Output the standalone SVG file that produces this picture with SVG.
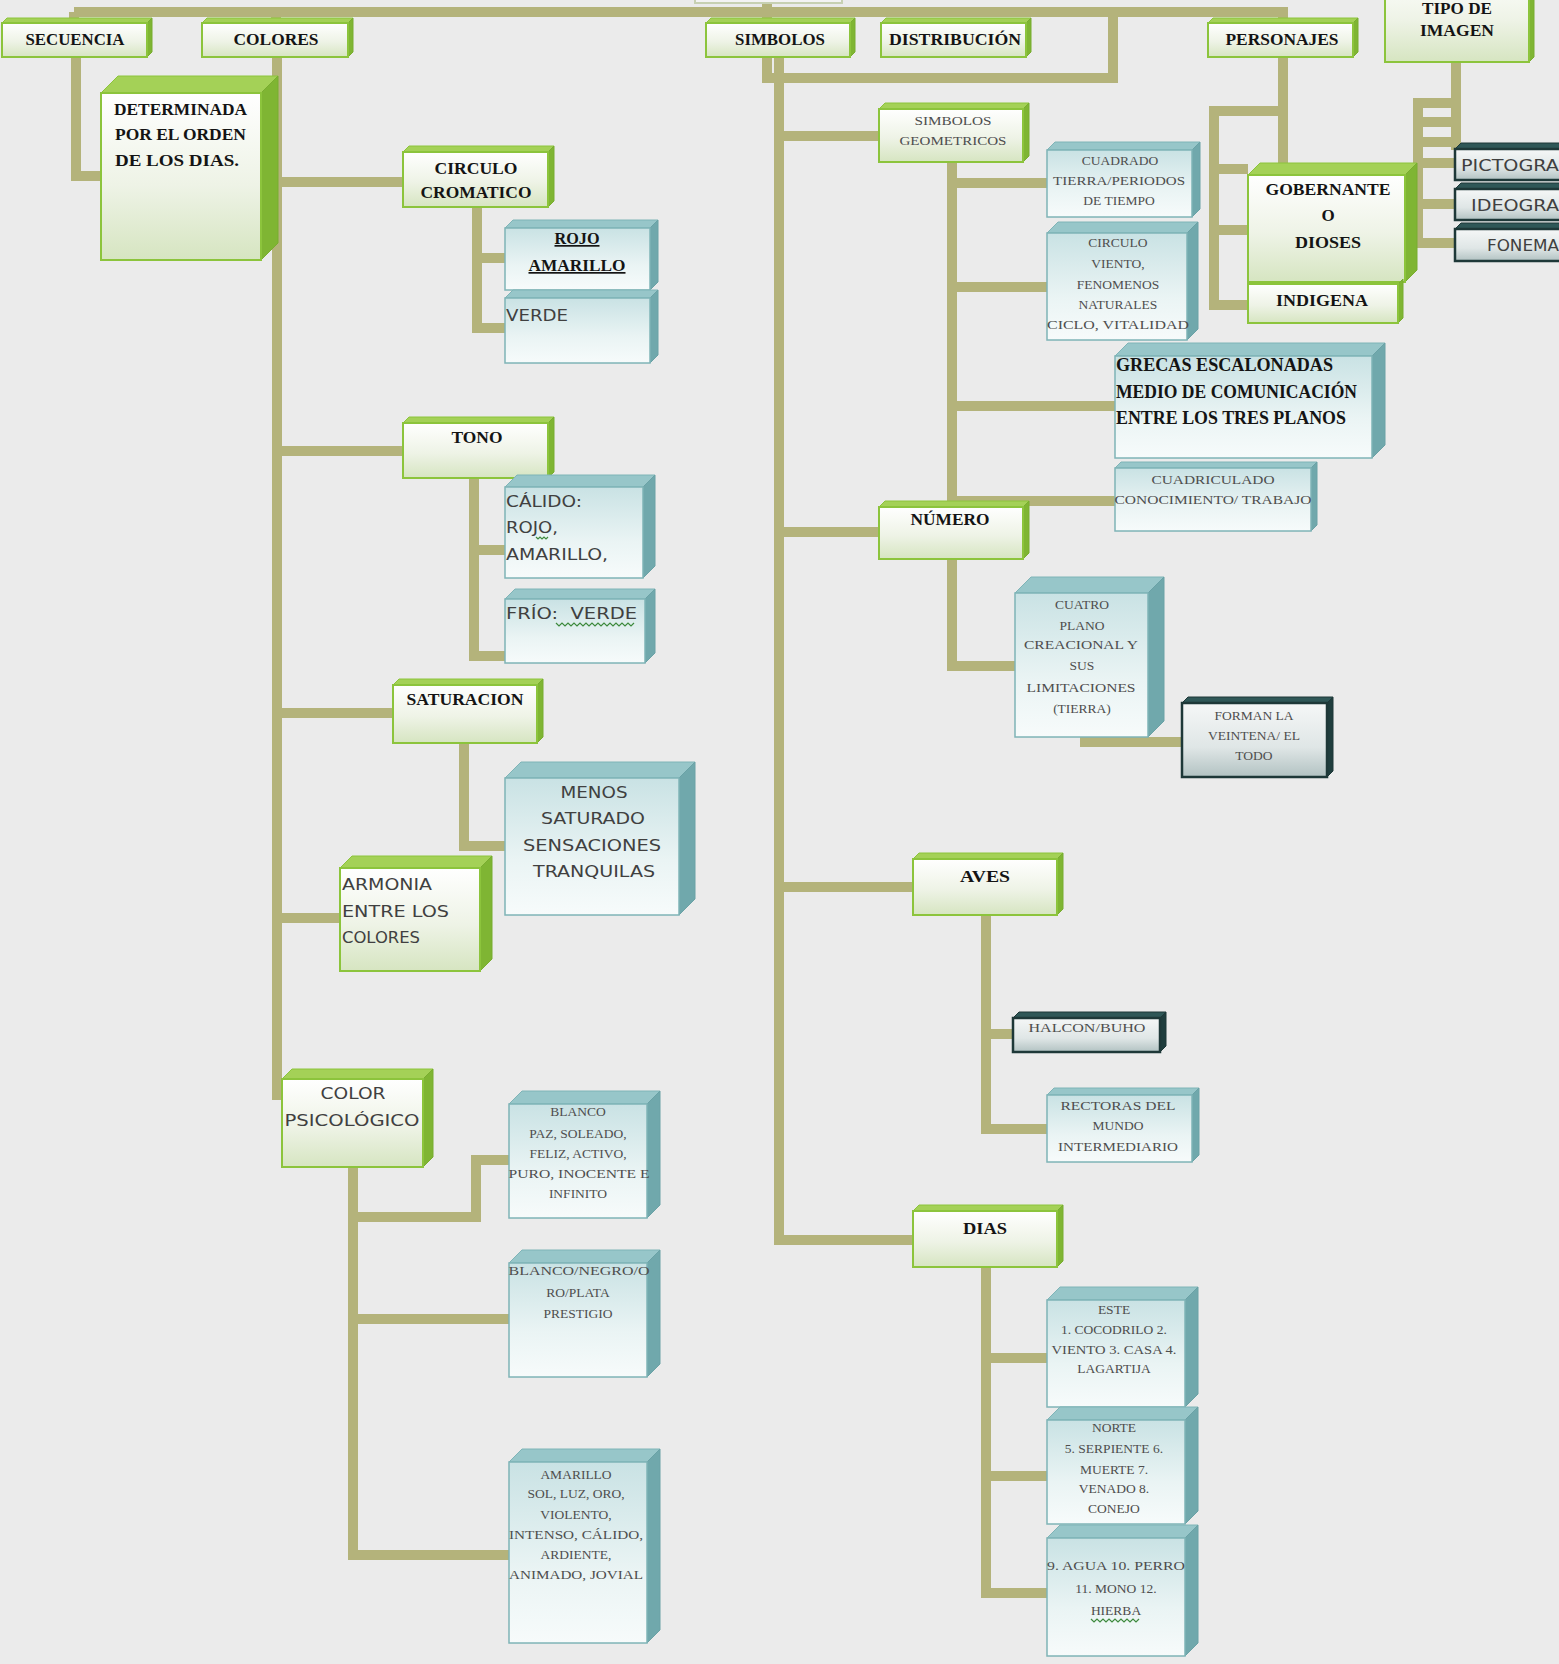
<svg xmlns="http://www.w3.org/2000/svg" width="1559" height="1664" viewBox="0 0 1559 1664">
<defs>
<linearGradient id="gF" x1="0" y1="0" x2="0" y2="1"><stop offset="0" stop-color="#ffffff"/><stop offset="0.55" stop-color="#eef3e6"/><stop offset="1" stop-color="#d6e5c1"/></linearGradient>
<linearGradient id="tF" x1="0" y1="0" x2="0" y2="1"><stop offset="0" stop-color="#c9e2e4"/><stop offset="0.6" stop-color="#eaf4f4"/><stop offset="1" stop-color="#f7fbfb"/></linearGradient>
<linearGradient id="dF" x1="0" y1="0" x2="0" y2="1"><stop offset="0" stop-color="#f5f7f7"/><stop offset="0.6" stop-color="#dfe6e6"/><stop offset="1" stop-color="#b2c2c2"/></linearGradient>
<style>
.gf{fill:url(#gF);stroke:#8cc43c;stroke-width:2}
.gt{fill:#a4d157;stroke:#8cc43c;stroke-width:1}
.gr{fill:#7fb533;stroke:#79ad30;stroke-width:1}
.tf{fill:url(#tF);stroke:#7fb4b7;stroke-width:1.5}
.tt{fill:#97c6c9;stroke:#7fb4b7;stroke-width:1}
.tr{fill:#70a8ac;stroke:#6aa2a6;stroke-width:1}
.df{fill:url(#dF);stroke:#1e3838;stroke-width:2.5}
.dt{fill:#2f5757;stroke:#1e3838;stroke-width:1}
.dr{fill:#1f3d3d;stroke:#1e3838;stroke-width:1}
.cn{fill:none;stroke:#b4b37b;stroke-width:10;stroke-linejoin:miter}
.lb{font-family:"Liberation Serif",serif;font-weight:bold;font-size:17px;fill:#141414}
.gb{font-family:"Liberation Serif",serif;font-weight:bold;font-size:18px;fill:#141414}
.sm{font-family:"Liberation Serif",serif;font-size:13.5px;fill:#4e4e4e}
.sn{font-family:"DejaVu Sans",sans-serif;font-size:16px;fill:#404040}
.mid{text-anchor:middle}
.wv{fill:none;stroke:#3d8a3d;stroke-width:1.2}
</style>
</defs>
<rect x="0" y="0" width="1559" height="1664" fill="#ebebeb"/>

<g id="connectors">
<path class="cn" d="M74,12 H1288"/>
<path class="cn" d="M74,12 V23"/>
<path class="cn" d="M276,12 V23"/>
<path class="cn" d="M767,0 V23"/>
<path class="cn" d="M1113,12 V78 H767 V57"/>
<path class="cn" d="M1283,12 V23"/>
<path class="cn" d="M76,57 V176 H101"/>
<path class="cn" d="M277,57 V1100"/>
<path class="cn" d="M277,182 H403"/>
<path class="cn" d="M277,451 H403"/>
<path class="cn" d="M277,713 H393"/>
<path class="cn" d="M277,918 H340"/>
<path class="cn" d="M477,207 V328 H505"/>
<path class="cn" d="M477,258 H505"/>
<path class="cn" d="M474,478 V656 H505"/>
<path class="cn" d="M474,550 H505"/>
<path class="cn" d="M464,743 V846 H505"/>
<path class="cn" d="M353,1167 V1555 H509"/>
<path class="cn" d="M353,1319 H509"/>
<path class="cn" d="M353,1217 H476 V1160 H509"/>
<path class="cn" d="M779,57 V1240 H913"/>
<path class="cn" d="M779,136 H879"/>
<path class="cn" d="M779,532 H879"/>
<path class="cn" d="M779,887 H913"/>
<path class="cn" d="M952,162 V501 H1115"/>
<path class="cn" d="M952,183 H1047"/>
<path class="cn" d="M952,287 H1047"/>
<path class="cn" d="M952,406 H1115"/>
<path class="cn" d="M952,559 V666 H1015"/>
<path class="cn" d="M1080,742 H1182"/>
<path class="cn" d="M986,915 V1129 H1047"/>
<path class="cn" d="M986,1034 H1013"/>
<path class="cn" d="M986,1267 V1593 H1047"/>
<path class="cn" d="M986,1358 H1047"/>
<path class="cn" d="M986,1476 H1047"/>
<path class="cn" d="M1283,57 V175"/>
<path class="cn" d="M1283,111 H1214 V305 H1248"/>
<path class="cn" d="M1214,169 H1248"/>
<path class="cn" d="M1214,230 H1248"/>
<path class="cn" d="M1456,62 V150"/>
<path class="cn" d="M1418,98 V248"/>
<path class="cn" d="M1418,103 H1456"/>
<path class="cn" d="M1418,122 H1456"/>
<path class="cn" d="M1418,142 H1456"/>
<path class="cn" d="M1418,163 H1455"/>
<path class="cn" d="M1418,204 H1455"/>
<path class="cn" d="M1418,243 H1455"/>
</g>

<g id="n-root"><rect x="695" y="-40" width="147" height="43" fill="#f3f3f3" stroke="#c7d0b2" stroke-width="2"/></g>

<g id="n-secuencia">
<polygon class="gt" points="2,23 7,18 152,18 147,23"/><polygon class="gr" points="147,23 152,18 152,52 147,57"/>
<rect class="gf" x="2" y="23" width="145" height="34"/>
<text class="lb mid" x="75" y="45" textLength="99" lengthAdjust="spacingAndGlyphs">SECUENCIA</text>
</g>
<g id="n-colores">
<polygon class="gt" points="202,23 207,18 353,18 348,23"/><polygon class="gr" points="348,23 353,18 353,52 348,57"/>
<rect class="gf" x="202" y="23" width="146" height="34"/>
<text class="lb mid" x="276" y="45" textLength="85" lengthAdjust="spacingAndGlyphs">COLORES</text>
</g>
<g id="n-simbolos">
<polygon class="gt" points="706,23 711,18 855,18 850,23"/><polygon class="gr" points="850,23 855,18 855,52 850,57"/>
<rect class="gf" x="706" y="23" width="144" height="34"/>
<text class="lb mid" x="780" y="45" textLength="90" lengthAdjust="spacingAndGlyphs">SIMBOLOS</text>
</g>
<g id="n-distribucion">
<polygon class="gt" points="881,23 886,18 1031,18 1026,23"/><polygon class="gr" points="1026,23 1031,18 1031,52 1026,57"/>
<rect class="gf" x="881" y="23" width="145" height="34"/>
<text class="lb mid" x="955" y="45" textLength="132" lengthAdjust="spacingAndGlyphs">DISTRIBUCIÓN</text>
</g>
<g id="n-personajes">
<polygon class="gt" points="1208,23 1213,18 1358,18 1353,23"/><polygon class="gr" points="1353,23 1358,18 1358,52 1353,57"/>
<rect class="gf" x="1208" y="23" width="145" height="34"/>
<text class="lb mid" x="1282" y="45" textLength="113" lengthAdjust="spacingAndGlyphs">PERSONAJES</text>
</g>
<g id="n-tipo">
<polygon class="gr" points="1529,-30 1534,-35 1534,57 1529,62"/>
<rect class="gf" x="1385" y="-30" width="144" height="92"/>
<text class="lb mid" x="1457" y="14" font-size="16" textLength="70" lengthAdjust="spacingAndGlyphs">TIPO DE</text>
<text class="lb mid" x="1457" y="36" textLength="74" lengthAdjust="spacingAndGlyphs">IMAGEN</text>
</g>

<g id="n-determinada">
<polygon class="gt" points="101,93 118,76 278,76 261,93"/><polygon class="gr" points="261,93 278,76 278,243 261,260"/>
<rect class="gf" x="101" y="93" width="160" height="167"/>
<text class="lb" x="114" y="115" textLength="133" lengthAdjust="spacingAndGlyphs">DETERMINADA</text>
<text class="lb" x="115" y="140" textLength="131" lengthAdjust="spacingAndGlyphs">POR EL ORDEN</text>
<text class="lb" x="115" y="166" textLength="124" lengthAdjust="spacingAndGlyphs">DE LOS DIAS.</text>
</g>
<g id="n-circulo-cromatico">
<polygon class="gt" points="403,152 409,146 554,146 548,152"/><polygon class="gr" points="548,152 554,146 554,201 548,207"/>
<rect class="gf" x="403" y="152" width="145" height="55"/>
<text class="lb mid" x="476" y="174" textLength="83" lengthAdjust="spacingAndGlyphs">CIRCULO</text>
<text class="lb mid" x="476" y="198" textLength="111" lengthAdjust="spacingAndGlyphs">CROMATICO</text>
</g>
<g id="n-rojo">
<polygon class="tt" points="505,228 513,220 658,220 650,228"/><polygon class="tr" points="650,228 658,220 658,282 650,290"/>
<rect class="tf" x="505" y="228" width="145" height="62"/>
<text class="lb mid" x="577" y="244" textLength="45" lengthAdjust="spacingAndGlyphs" text-decoration="underline">ROJO</text>
<text class="lb mid" x="577" y="271" textLength="97" lengthAdjust="spacingAndGlyphs" text-decoration="underline">AMARILLO</text>
</g>
<g id="n-verde">
<polygon class="tt" points="505,298 513,290 658,290 650,298"/><polygon class="tr" points="650,298 658,290 658,355 650,363"/>
<rect class="tf" x="505" y="298" width="145" height="65"/>
<text class="sn" x="506" y="321" textLength="62" lengthAdjust="spacingAndGlyphs">VERDE</text>
</g>
<g id="n-tono">
<polygon class="gt" points="403,423 409,417 554,417 548,423"/><polygon class="gr" points="548,423 554,417 554,472 548,478"/>
<rect class="gf" x="403" y="423" width="145" height="55"/>
<text class="lb mid" x="477" y="443" textLength="51" lengthAdjust="spacingAndGlyphs">TONO</text>
</g>
<g id="n-calido">
<polygon class="tt" points="505,487 517,475 655,475 643,487"/><polygon class="tr" points="643,487 655,475 655,566 643,578"/>
<rect class="tf" x="505" y="487" width="138" height="91"/>
<text class="sn" x="506" y="507" textLength="76" lengthAdjust="spacingAndGlyphs">CÁLIDO:</text>
<text class="sn" x="506" y="533" textLength="52" lengthAdjust="spacingAndGlyphs">ROJO,</text>
<text class="sn" x="506" y="560" textLength="102" lengthAdjust="spacingAndGlyphs">AMARILLO,</text>
<path class="wv" d="M536,537 l2,2 l2,-2 l2,2 l2,-2 l2,2 l2,-2"/>
</g>
<g id="n-frio">
<polygon class="tt" points="505,599 515,589 655,589 645,599"/><polygon class="tr" points="645,599 655,589 655,653 645,663"/>
<rect class="tf" x="505" y="599" width="140" height="64"/>
<text class="sn" x="506" y="619" textLength="131" lengthAdjust="spacingAndGlyphs" xml:space="preserve">FRÍO:  VERDE</text>
<path class="wv" d="M556,623 l3,3 l3,-3 l3,3 l3,-3 l3,3 l3,-3 l3,3 l3,-3 l3,3 l3,-3 l3,3 l3,-3 l3,3 l3,-3 l3,3 l3,-3 l3,3 l3,-3 l3,3 l3,-3 l3,3 l3,-3 l3,3 l3,-3 l3,3 l3,-3"/>
</g>
<g id="n-saturacion">
<polygon class="gt" points="393,685 399,679 543,679 537,685"/><polygon class="gr" points="537,685 543,679 543,737 537,743"/>
<rect class="gf" x="393" y="685" width="144" height="58"/>
<text class="lb mid" x="465" y="705" textLength="117" lengthAdjust="spacingAndGlyphs">SATURACION</text>
</g>
<g id="n-menos">
<polygon class="tt" points="505,778 521,762 695,762 679,778"/><polygon class="tr" points="679,778 695,762 695,899 679,915"/>
<rect class="tf" x="505" y="778" width="174" height="137"/>
<text class="sn mid" x="594" y="798" font-size="18" textLength="67" lengthAdjust="spacingAndGlyphs">MENOS</text>
<text class="sn mid" x="593" y="824" font-size="18" textLength="104" lengthAdjust="spacingAndGlyphs">SATURADO</text>
<text class="sn mid" x="592" y="851" font-size="18" textLength="138" lengthAdjust="spacingAndGlyphs">SENSACIONES</text>
<text class="sn mid" x="594" y="877" font-size="18" textLength="122" lengthAdjust="spacingAndGlyphs">TRANQUILAS</text>
</g>
<g id="n-armonia">
<polygon class="gt" points="340,868 352,856 492,856 480,868"/><polygon class="gr" points="480,868 492,856 492,959 480,971"/>
<rect class="gf" x="340" y="868" width="140" height="103"/>
<text class="sn" x="342" y="890" font-size="18" textLength="90" lengthAdjust="spacingAndGlyphs">ARMONIA</text>
<text class="sn" x="342" y="917" font-size="18" textLength="107" lengthAdjust="spacingAndGlyphs">ENTRE LOS</text>
<text class="sn" x="342" y="943" font-size="18" textLength="78" lengthAdjust="spacingAndGlyphs">COLORES</text>
</g>
<g id="n-color-psicologico">
<polygon class="gt" points="282,1079 292,1069 433,1069 423,1079"/><polygon class="gr" points="423,1079 433,1069 433,1157 423,1167"/>
<rect class="gf" x="282" y="1079" width="141" height="88"/>
<text class="sn mid" x="353" y="1099" font-size="18" textLength="65" lengthAdjust="spacingAndGlyphs">COLOR</text>
<text class="sn mid" x="352" y="1126" font-size="18" textLength="135" lengthAdjust="spacingAndGlyphs">PSICOLÓGICO</text>
</g>
<g id="n-blanco">
<polygon class="tt" points="509,1104 522,1091 660,1091 647,1104"/><polygon class="tr" points="647,1104 660,1091 660,1205 647,1218"/>
<rect class="tf" x="509" y="1104" width="138" height="114"/>
<text class="sm mid" x="578" y="1116">BLANCO</text>
<text class="sm mid" x="578" y="1138">PAZ, SOLEADO,</text>
<text class="sm mid" x="578" y="1158">FELIZ, ACTIVO,</text>
<text class="sm mid" x="579" y="1178" textLength="141" lengthAdjust="spacingAndGlyphs">PURO, INOCENTE E</text>
<text class="sm mid" x="578" y="1198">INFINITO</text>
</g>
<g id="n-blanco-negro">
<polygon class="tt" points="509,1263 522,1250 660,1250 647,1263"/><polygon class="tr" points="647,1263 660,1250 660,1364 647,1377"/>
<rect class="tf" x="509" y="1263" width="138" height="114"/>
<text class="sm mid" x="579" y="1275" textLength="141" lengthAdjust="spacingAndGlyphs">BLANCO/NEGRO/O</text>
<text class="sm mid" x="578" y="1297">RO/PLATA</text>
<text class="sm mid" x="578" y="1318">PRESTIGIO</text>
</g>
<g id="n-amarillo">
<polygon class="tt" points="509,1462 522,1449 660,1449 647,1462"/><polygon class="tr" points="647,1462 660,1449 660,1630 647,1643"/>
<rect class="tf" x="509" y="1462" width="138" height="181"/>
<text class="sm mid" x="576" y="1479">AMARILLO</text>
<text class="sm mid" x="576" y="1498">SOL, LUZ, ORO,</text>
<text class="sm mid" x="576" y="1519">VIOLENTO,</text>
<text class="sm mid" x="576" y="1539" textLength="134" lengthAdjust="spacingAndGlyphs">INTENSO, CÁLIDO,</text>
<text class="sm mid" x="576" y="1559">ARDIENTE,</text>
<text class="sm mid" x="576" y="1579" textLength="134" lengthAdjust="spacingAndGlyphs">ANIMADO, JOVIAL</text>
</g>

<g id="n-simbolos-geometricos">
<polygon class="gt" points="879,109 885,103 1029,103 1023,109"/><polygon class="gr" points="1023,109 1029,103 1029,156 1023,162"/>
<rect class="gf" x="879" y="109" width="144" height="53"/>
<text class="sm mid" x="953" y="125" textLength="77" lengthAdjust="spacingAndGlyphs">SIMBOLOS</text>
<text class="sm mid" x="953" y="145" textLength="107" lengthAdjust="spacingAndGlyphs">GEOMETRICOS</text>
</g>
<g id="n-cuadrado">
<polygon class="tt" points="1047,150 1055,142 1200,142 1192,150"/><polygon class="tr" points="1192,150 1200,142 1200,209 1192,217"/>
<rect class="tf" x="1047" y="150" width="145" height="67"/>
<text class="sm mid" x="1120" y="165">CUADRADO</text>
<text class="sm mid" x="1119" y="185" textLength="132" lengthAdjust="spacingAndGlyphs">TIERRA/PERIODOS</text>
<text class="sm mid" x="1119" y="205">DE TIEMPO</text>
</g>
<g id="n-circulo">
<polygon class="tt" points="1047,233 1058,222 1198,222 1187,233"/><polygon class="tr" points="1187,233 1198,222 1198,329 1187,340"/>
<rect class="tf" x="1047" y="233" width="140" height="107"/>
<text class="sm mid" x="1118" y="247">CIRCULO</text>
<text class="sm mid" x="1118" y="268">VIENTO,</text>
<text class="sm mid" x="1118" y="289">FENOMENOS</text>
<text class="sm mid" x="1118" y="309">NATURALES</text>
<text class="sm mid" x="1118" y="329" textLength="142" lengthAdjust="spacingAndGlyphs">CICLO, VITALIDAD</text>
</g>
<g id="n-grecas">
<polygon class="tt" points="1115,356 1128,343 1385,343 1372,356"/><polygon class="tr" points="1372,356 1385,343 1385,445 1372,458"/>
<rect class="tf" x="1115" y="356" width="257" height="102"/>
<text class="gb" x="1116" y="371" textLength="217" lengthAdjust="spacingAndGlyphs">GRECAS ESCALONADAS</text>
<text class="gb" x="1116" y="398" textLength="241" lengthAdjust="spacingAndGlyphs">MEDIO DE COMUNICACIÓN</text>
<text class="gb" x="1116" y="424" textLength="230" lengthAdjust="spacingAndGlyphs">ENTRE LOS TRES PLANOS</text>
</g>
<g id="n-cuadriculado">
<polygon class="tt" points="1115,468 1121,462 1317,462 1311,468"/><polygon class="tr" points="1311,468 1317,462 1317,525 1311,531"/>
<rect class="tf" x="1115" y="468" width="196" height="63"/>
<text class="sm mid" x="1213" y="484" textLength="123" lengthAdjust="spacingAndGlyphs">CUADRICULADO</text>
<text class="sm mid" x="1213" y="504" textLength="197" lengthAdjust="spacingAndGlyphs">CONOCIMIENTO/ TRABAJO</text>
</g>
<g id="n-numero">
<polygon class="gt" points="879,507 885,501 1029,501 1023,507"/><polygon class="gr" points="1023,507 1029,501 1029,553 1023,559"/>
<rect class="gf" x="879" y="507" width="144" height="52"/>
<text class="lb mid" x="950" y="525" textLength="79" lengthAdjust="spacingAndGlyphs">NÚMERO</text>
</g>
<g id="n-cuatro">
<polygon class="tt" points="1015,593 1031,577 1164,577 1148,593"/><polygon class="tr" points="1148,593 1164,577 1164,721 1148,737"/>
<rect class="tf" x="1015" y="593" width="133" height="144"/>
<text class="sm mid" x="1082" y="609">CUATRO</text>
<text class="sm mid" x="1082" y="630">PLANO</text>
<text class="sm mid" x="1081" y="649" textLength="114" lengthAdjust="spacingAndGlyphs">CREACIONAL Y</text>
<text class="sm mid" x="1082" y="670">SUS</text>
<text class="sm mid" x="1081" y="692" textLength="109" lengthAdjust="spacingAndGlyphs">LIMITACIONES</text>
<text class="sm mid" x="1082" y="713">(TIERRA)</text>
</g>
<g id="n-forman">
<polygon class="dt" points="1182,703 1188,697 1333,697 1327,703"/><polygon class="dr" points="1327,703 1333,697 1333,771 1327,777"/>
<rect class="df" x="1182" y="703" width="145" height="74"/>
<text class="sm mid" x="1254" y="720">FORMAN LA</text>
<text class="sm mid" x="1254" y="740">VEINTENA/ EL</text>
<text class="sm mid" x="1254" y="760">TODO</text>
</g>
<g id="n-aves">
<polygon class="gt" points="913,859 919,853 1063,853 1057,859"/><polygon class="gr" points="1057,859 1063,853 1063,909 1057,915"/>
<rect class="gf" x="913" y="859" width="144" height="56"/>
<text class="lb mid" x="985" y="882" textLength="50" lengthAdjust="spacingAndGlyphs">AVES</text>
</g>
<g id="n-halcon">
<polygon class="dt" points="1013,1018 1019,1012 1166,1012 1160,1018"/><polygon class="dr" points="1160,1018 1166,1012 1166,1046 1160,1052"/>
<rect class="df" x="1013" y="1018" width="147" height="34"/>
<text class="sm mid" x="1087" y="1032" textLength="117" lengthAdjust="spacingAndGlyphs">HALCON/BUHO</text>
</g>
<g id="n-rectoras">
<polygon class="tt" points="1047,1095 1054,1088 1199,1088 1192,1095"/><polygon class="tr" points="1192,1095 1199,1088 1199,1155 1192,1162"/>
<rect class="tf" x="1047" y="1095" width="145" height="67"/>
<text class="sm mid" x="1118" y="1110" textLength="115" lengthAdjust="spacingAndGlyphs">RECTORAS DEL</text>
<text class="sm mid" x="1118" y="1130">MUNDO</text>
<text class="sm mid" x="1118" y="1151" textLength="120" lengthAdjust="spacingAndGlyphs">INTERMEDIARIO</text>
</g>
<g id="n-dias">
<polygon class="gt" points="913,1211 919,1205 1063,1205 1057,1211"/><polygon class="gr" points="1057,1211 1063,1205 1063,1261 1057,1267"/>
<rect class="gf" x="913" y="1211" width="144" height="56"/>
<text class="lb mid" x="985" y="1234" textLength="44" lengthAdjust="spacingAndGlyphs">DIAS</text>
</g>
<g id="n-este">
<polygon class="tt" points="1047,1300 1060,1287 1198,1287 1185,1300"/><polygon class="tr" points="1185,1300 1198,1287 1198,1394 1185,1407"/>
<rect class="tf" x="1047" y="1300" width="138" height="107"/>
<text class="sm mid" x="1114" y="1314">ESTE</text>
<text class="sm mid" x="1114" y="1334">1. COCODRILO 2.</text>
<text class="sm mid" x="1114" y="1354" textLength="125" lengthAdjust="spacingAndGlyphs">VIENTO 3. CASA 4.</text>
<text class="sm mid" x="1114" y="1373">LAGARTIJA</text>
</g>
<g id="n-norte">
<polygon class="tt" points="1047,1420 1060,1407 1198,1407 1185,1420"/><polygon class="tr" points="1185,1420 1198,1407 1198,1511 1185,1524"/>
<rect class="tf" x="1047" y="1420" width="138" height="104"/>
<text class="sm mid" x="1114" y="1432">NORTE</text>
<text class="sm mid" x="1114" y="1453">5. SERPIENTE 6.</text>
<text class="sm mid" x="1114" y="1474">MUERTE 7.</text>
<text class="sm mid" x="1114" y="1493">VENADO 8.</text>
<text class="sm mid" x="1114" y="1513">CONEJO</text>
</g>
<g id="n-agua">
<polygon class="tt" points="1047,1538 1060,1525 1198,1525 1185,1538"/><polygon class="tr" points="1185,1538 1198,1525 1198,1643 1185,1656"/>
<rect class="tf" x="1047" y="1538" width="138" height="118"/>
<text class="sm mid" x="1116" y="1570" textLength="138" lengthAdjust="spacingAndGlyphs">9. AGUA 10. PERRO</text>
<text class="sm mid" x="1116" y="1593">11. MONO 12.</text>
<text class="sm mid" x="1116" y="1615">HIERBA</text>
<path class="wv" d="M1091,1619 l3,3 l3,-3 l3,3 l3,-3 l3,3 l3,-3 l3,3 l3,-3 l3,3 l3,-3 l3,3 l3,-3 l3,3 l3,-3 l3,3 l3,-3"/>
</g>

<g id="n-gobernante">
<polygon class="gt" points="1248,175 1260,163 1417,163 1405,175"/><polygon class="gr" points="1405,175 1417,163 1417,270 1405,282"/>
<rect class="gf" x="1248" y="175" width="157" height="107"/>
<text class="lb mid" x="1328" y="195" textLength="125" lengthAdjust="spacingAndGlyphs">GOBERNANTE</text>
<text class="lb mid" x="1328" y="221">O</text>
<text class="lb mid" x="1328" y="248" textLength="66" lengthAdjust="spacingAndGlyphs">DIOSES</text>
</g>
<g id="n-indigena">
<polygon class="gr" points="1398,284 1403,279 1403,318 1398,323"/>
<rect class="gf" x="1248" y="284" width="150" height="39"/>
<text class="lb mid" x="1322" y="306" textLength="92" lengthAdjust="spacingAndGlyphs">INDIGENA</text>
</g>
<g id="n-pictograma">
<polygon class="dt" points="1455,149 1461,143 1575,143 1569,149"/>
<rect class="df" x="1455" y="149" width="120" height="31"/>
<text class="sn" x="1461" y="171" font-size="18" textLength="98" lengthAdjust="spacingAndGlyphs">PICTOGRA</text>
</g>
<g id="n-ideograma">
<polygon class="dt" points="1455,189 1461,183 1575,183 1569,189"/>
<rect class="df" x="1455" y="189" width="120" height="31"/>
<text class="sn" x="1471" y="211" font-size="18" textLength="88" lengthAdjust="spacingAndGlyphs">IDEOGRA</text>
</g>
<g id="n-fonema">
<polygon class="dt" points="1455,229 1461,223 1575,223 1569,229"/>
<rect class="df" x="1455" y="229" width="120" height="32"/>
<text class="sn" x="1487" y="251" font-size="18" textLength="72" lengthAdjust="spacingAndGlyphs">FONEMA</text>
</g>
</svg>
